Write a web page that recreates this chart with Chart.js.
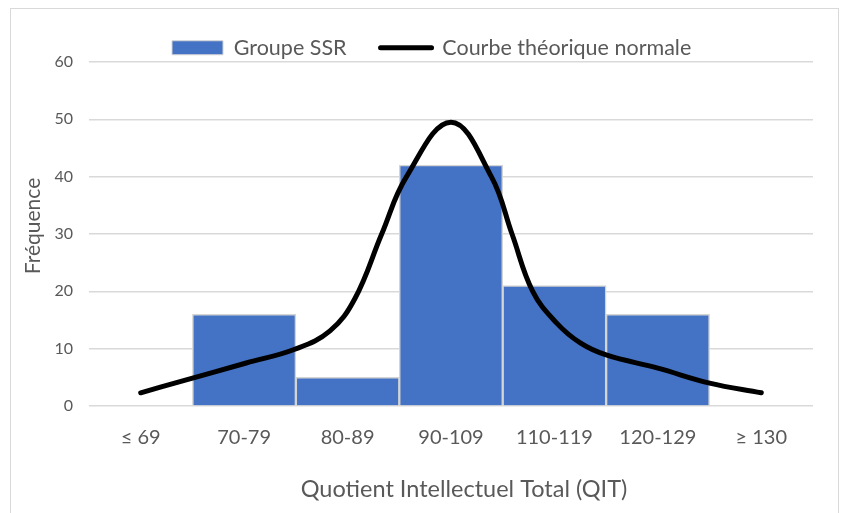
<!DOCTYPE html>
<html><head><meta charset="utf-8">
<script src="https://cdn.jsdelivr.net/npm/chart.js@4.4.0/dist/chart.umd.min.js"></script>
<style>html,body{margin:0;padding:0;background:#fff}#wrap{width:843px;height:513px;position:relative}</style>
</head><body><div id="wrap"><canvas id="c" width="843" height="513"></canvas></div>
<script>
// ---- data ----
const categories = ['≤ 69', '70-79', '80-89', '90-109', '110-119', '120-129', '≥ 130'];
const groupeSSR = [0, 16, 5, 42, 21, 16, 0];
// theoretical normal curve sampled along the category axis (category index, frequency)
const curveX = [0, 0.38, 1.02, 1.49, 1.83, 2.07, 2.33, 2.57, 3.0, 3.39, 3.59, 3.79, 4.02, 4.25, 4.5, 5.0, 5.5, 6];
const curveY = [2.3, 4.25, 7.5, 9.9, 13.1, 18.7, 30, 40, 49.5, 40, 30, 20, 14.5, 11, 8.9, 6.6, 4.0, 2.3];
const yTicks = [0, 10, 20, 30, 40, 50, 60];
const seriesNames = ['Groupe SSR', 'Courbe théorique normale'];
const xTitle = 'Quotient Intellectuel Total (QIT)';
const yTitle = 'Fréquence';

const F = 'Lato';
const TXT = '#595959';
const LEGEND_H = 59;

const frame = {
  id: 'frame',
  beforeLayout(chart) {
    const lg = chart.legend;
    if (lg && !lg.__fixed) {
      const orig = lg.fit;
      lg.fit = function () { orig.call(this); this.height = LEGEND_H; };
      lg.__fixed = true;
    }
  },
  afterLayout(chart) {
    const lg = chart.legend;
    if (lg) lg.left = 172 - lg.options.labels.padding;
  },
  beforeDraw(chart) {
    const ctx = chart.ctx;
    ctx.save();
    ctx.fillStyle = '#fff';
    ctx.fillRect(0, 0, chart.width, chart.height);
    ctx.strokeStyle = '#d9d9d9';
    ctx.lineWidth = 1;
    ctx.strokeRect(10.5, 8.5, 828, 520);
    ctx.restore();
  },
  afterDraw(chart) {
    const ctx = chart.ctx;
    ctx.save();
    ctx.fillStyle = TXT;
    ctx.font = '23.5px ' + F;
    ctx.textAlign = 'center';
    ctx.textBaseline = 'alphabetic';
    ctx.fillText(xTitle, 464, 497);
    ctx.translate(33, 226);
    ctx.rotate(-Math.PI / 2);
    ctx.font = '21px ' + F;
    ctx.textBaseline = 'middle';
    ctx.fillText(yTitle, 0, 0);
    ctx.restore();
  }
};

new Chart(document.getElementById('c'), {
  data: {
    labels: categories,
    datasets: [
      { type: 'bar', label: seriesNames[0], data: groupeSSR, backgroundColor: '#4472C4',
        borderColor: '#d4d4d4', borderWidth: 1.5, barPercentage: 1, categoryPercentage: 1, grouped: false,
        order: 1, xAxisID: 'x', yAxisID: 'y' },
      { type: 'line', label: seriesNames[1], data: curveX.map((x, i) => ({ x: x, y: curveY[i] })),
        borderColor: '#000', borderWidth: 5, pointRadius: 0, tension: 0.4,
        borderCapStyle: 'round', borderJoinStyle: 'round', fill: false, order: 0, xAxisID: 'x2', yAxisID: 'y' }
    ]
  },
  options: {
    responsive: false,
    animation: false,
    devicePixelRatio: 1,
    layout: { padding: { left: 12, right: 30, top: 3, bottom: 0 } },
    plugins: {
      tooltip: { enabled: false },
      legend: {
        position: 'top', align: 'start',
        labels: {
          font: { family: F, size: 21.5 }, color: TXT,
          usePointStyle: true, pointStyleWidth: 51, boxHeight: 14, padding: 34,
          generateLabels(chart) {
            const ds = chart.data.datasets;
            return [
              { text: ds[0].label, datasetIndex: 0, pointStyle: 'rect', fillStyle: '#4472C4', strokeStyle: '#d4d4d4', lineWidth: 1, fontColor: TXT, hidden: false },
              { text: ds[1].label, datasetIndex: 1, pointStyle: 'line', fillStyle: '#000', strokeStyle: '#000', lineWidth: 5, lineCap: 'round', fontColor: TXT, hidden: false }
            ];
          }
        }
      }
    },
    scales: {
      x: { type: 'category', offset: true, grid: { display: false }, border: { display: false },
        ticks: { font: { family: F, size: 20 }, color: TXT, padding: 12, maxRotation: 0, autoSkip: false },
        afterFit(s) { s.height = 107; } },
      x2: { type: 'linear', display: false, min: -0.5, max: 6.5 },
      y: { type: 'linear', min: 0, max: 60,
        afterBuildTicks(s) { s.ticks = yTicks.map(v => ({ value: v })); },
        grid: { color: '#d9d9d9', lineWidth: 1.5, drawTicks: false }, border: { display: false },
        ticks: { font: { family: F, size: 16 }, color: TXT, padding: 16 },
        afterFit(s) { s.width = 77; } }
    }
  },
  plugins: [frame]
});
</script></body></html>
